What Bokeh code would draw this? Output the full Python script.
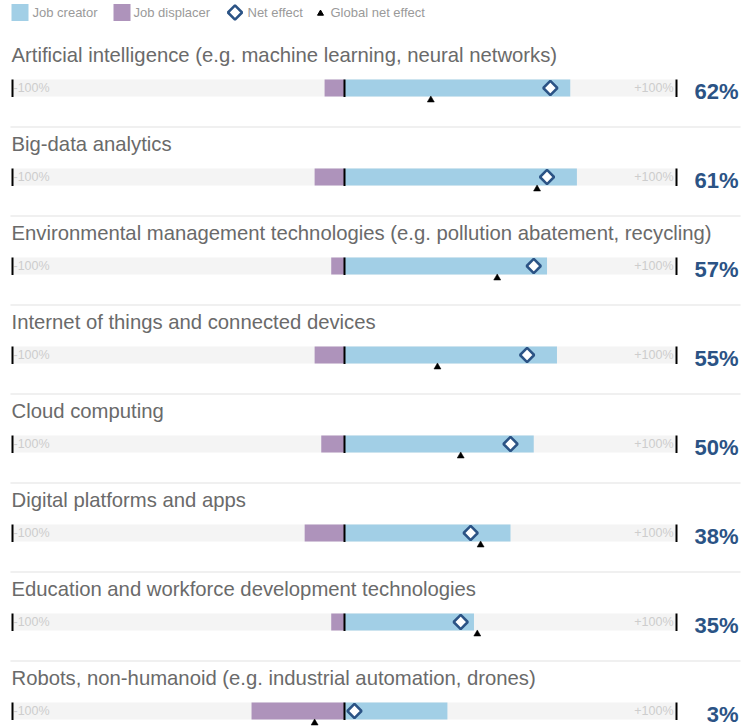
from bokeh.plotting import figure
from bokeh.models import Range1d, ColumnDataSource
from bokeh.core.properties import value
from bokeh.embed import file_html
from bokeh.resources import INLINE
import math

categories = [
    "Artificial intelligence (e.g. machine learning, neural networks)",
    "Big-data analytics",
    "Environmental management technologies (e.g. pollution abatement, recycling)",
    "Internet of things and connected devices",
    "Cloud computing",
    "Digital platforms and apps",
    "Education and workforce development technologies",
    "Robots, non-humanoid (e.g. industrial automation, drones)",
]
job_creator = [68, 70, 61, 64, 57, 50, 39, 31]
job_displacer = [6, 9, 4, 9, 7, 12, 4, 28]
net_effect = [62, 61, 57, 55, 50, 38, 35, 3]
global_net = [26, 58, 46, 28, 35, 41, 40, -9]
net_labels = ["62%", "61%", "57%", "55%", "50%", "38%", "35%", "3%"]

BLUE = "#a2cfe6"
PURPLE = "#ae93bb"
NAVY = "#2b5385"
FONT = value("Liberation Sans")

W, H = 753, 728
CENTER_PX = 344   # x of 0%
SCALE = 3.32      # px per percent
ROW_STEP = 89

def px(page_x):
    return (page_x - CENTER_PX) / SCALE

p = figure(width=W, height=H, output_backend="svg", toolbar_location=None,
           x_range=Range1d(px(0), px(W)), y_range=Range1d(H, 0),
           min_border=0, outline_line_color=None)
p.axis.visible = False
p.grid.visible = False
p.background_fill_color = "white"

n = len(categories)
bar_y = [87.5 + ROW_STEP * i for i in range(n)]
title_y = [54.5 + ROW_STEP * i for i in range(n)]
tri_y = [99.5 + ROW_STEP * i for i in range(n)]
lab_y = [91 + ROW_STEP * i for i in range(n)]
sep_y = [126.5 + ROW_STEP * i for i in range(n - 1)]

src = ColumnDataSource(dict(
    y=bar_y, ty=title_y, tri=tri_y, ly=lab_y, cat=categories,
    creator=job_creator, displacer=[-d for d in job_displacer],
    net=net_effect, glob=global_net, lab=net_labels,
    zero=[0] * n, lo=[-100] * n, hi=[100] * n,
    top=[b - 8.5 for b in bar_y], bot=[b + 9 for b in bar_y],
))

# separators
p.segment(x0=px(10), x1=px(740), y0=sep_y, y1=sep_y, line_color="#f0f0f0", line_width=2)

# titles
p.text(x=px(11), y="ty", text="cat", source=src, text_font=FONT,
       text_font_size="20.3px", text_color="#6a6a6a", text_baseline="middle")

# background bar
p.hbar(y="y", left="lo", right="hi", height=17, source=src, fill_color="#f4f4f4", line_color=None)
p.text(x=px(13), y="y", text=value("-100%"), source=src, text_font=FONT,
       text_font_size="12.5px", text_color="#cdcdcd", text_baseline="middle")
p.text(x=px(673), y="y", text=value("+100%"), source=src, text_font=FONT,
       text_font_size="12.5px", text_color="#cdcdcd", text_baseline="middle", text_align="right")

# creator / displacer bars
p.hbar(y="y", left="zero", right="creator", height=17, source=src, fill_color=BLUE, line_color=None)
p.hbar(y="y", left="displacer", right="zero", height=17, source=src, fill_color=PURPLE, line_color=None)

# ticks at -100, 0, +100
for xv in (-100, 0, 100):
    p.segment(x0=xv, x1=xv, y0="top", y1="bot", source=src, line_color="black", line_width=2)

# net effect diamond
p.scatter(x="net", y="y", source=src, marker="square", angle=math.pi / 4, size=10,
          fill_color="white", line_color=NAVY, line_width=2.5)
# global net effect triangle
p.scatter(x="glob", y="tri", source=src, marker="triangle", size=7,
          fill_color="black", line_color="black", line_width=0.5)

# net labels
p.text(x=px(738), y="ly", text="lab", source=src, text_font=FONT, text_font_style="bold",
       text_font_size="22px", text_color=NAVY, text_baseline="middle", text_align="right")

# legend
LY = 12
p.rect(x=[px(19.5), px(121.5)], y=[LY, LY], width=17, height=17,
       width_units="screen", height_units="screen",
       fill_color=[BLUE, PURPLE], line_color=None)
p.scatter(x=[px(234.5)], y=[LY], marker="square", angle=math.pi / 4, size=10,
          fill_color="white", line_color=NAVY, line_width=2.5)
p.scatter(x=[px(320)], y=[LY + 1], marker="triangle", size=6, fill_color="black", line_color="black")
p.text(x=[px(32), px(133), px(247), px(330)], y=[LY] * 4,
       text=["Job creator", "Job displacer", "Net effect", "Global net effect"],
       text_font=FONT, text_font_size="13px", text_color="#9a9a9a", text_baseline="middle")

open("out.html", "w").write(file_html(p, INLINE))
